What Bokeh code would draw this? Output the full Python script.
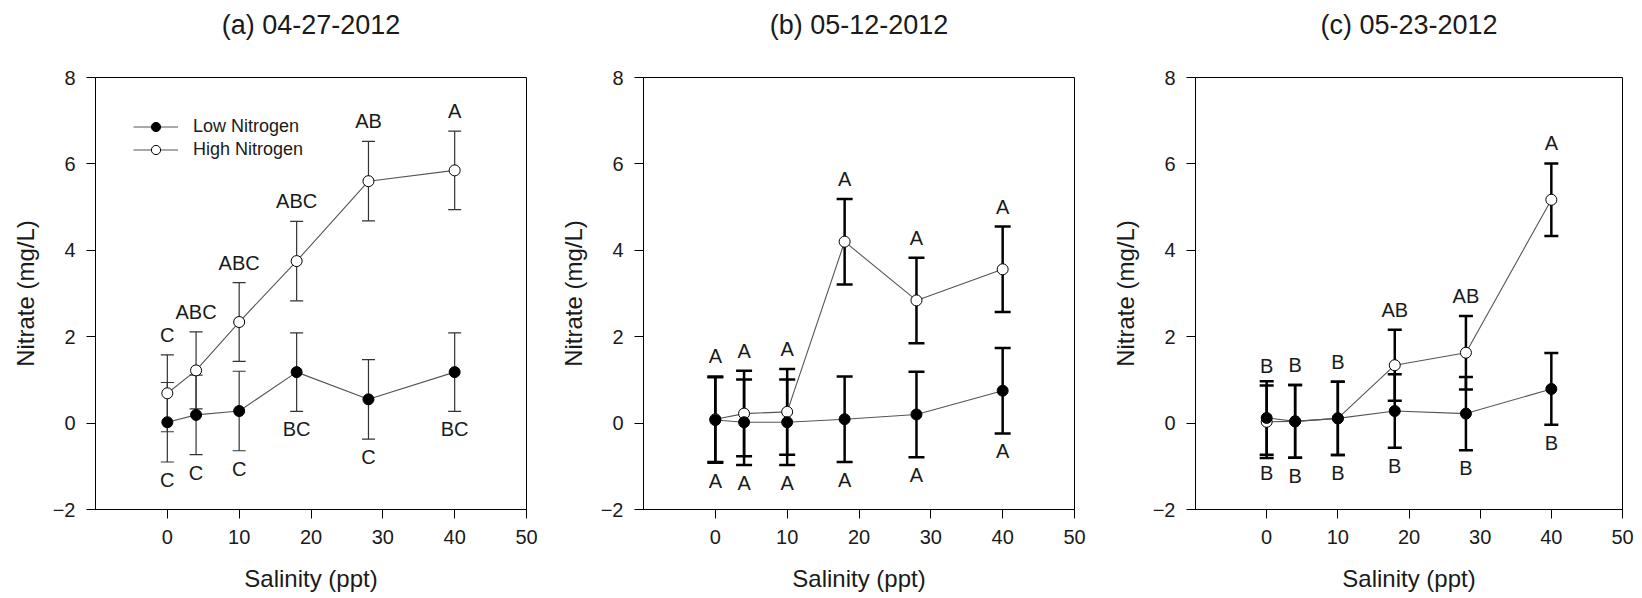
from bokeh.plotting import figure
from bokeh.models import (Range1d, FixedTicker, Whisker, TeeHead, ColumnDataSource,
                          Legend, LegendItem, Title)
from bokeh.layouts import row
from bokeh.embed import file_html
from bokeh.resources import INLINE
from bokeh.core.properties import value

# Salinity treatments (ppt)
salinity = [0, 4, 10, 18, 28, 40]

titles = ["(a) 04-27-2012", "(b) 05-12-2012", "(c) 05-23-2012"]

# (a) 04-27-2012 : nitrate means and error (mg/L)
low_a = [0.02, 0.19, 0.28, 1.18, 0.55, 1.18]
low_a_err = [0.92, 0.92, 0.92, 0.91, 0.92, 0.91]
high_a = [0.69, 1.22, 2.34, 3.75, 5.60, 5.85]
high_a_err = [0.89, 0.89, 0.91, 0.92, 0.92, 0.91]
low_a_letters = ["C", "C", "C", "BC", "C", "BC"]
high_a_letters = ["C", "ABC", "ABC", "ABC", "AB", "A"]

# (b) 05-12-2012
low_b = [0.07, 0.02, 0.02, 0.09, 0.20, 0.75]
low_b_err = [0.99, 0.99, 0.99, 0.99, 0.99, 0.99]
high_b = [0.09, 0.22, 0.26, 4.20, 2.84, 3.56]
high_b_err = [0.99, 0.99, 0.99, 0.99, 0.99, 0.99]
low_b_letters = ["A", "A", "A", "A", "A", "A"]
high_b_letters = ["A", "A", "A", "A", "A", "A"]

# (c) 05-23-2012
low_c = [0.12, 0.04, 0.11, 0.28, 0.22, 0.79]
low_c_err = [0.85, 0.84, 0.85, 0.85, 0.85, 0.83]
high_c = [0.03, 0.04, 0.11, 1.34, 1.63, 5.17]
high_c_err = [0.84, 0.84, 0.85, 0.82, 0.85, 0.84]
low_c_letters = ["B", "B", "B", "B", "B", "B"]
high_c_letters = ["B", "B", "B", "AB", "AB", "A"]

x_ticks = [0, 10, 20, 30, 40, 50]
y_ticks = [-2, 0, 2, 4, 6, 8]

FONT = "Liberation Sans"
TEXT = "#1a1a1a"
TOP = 77
FRAME_H = 432


def make_panel(title, low, low_err, high, high_err, low_letters, high_letters,
               bar_color, bar_width, cap, border_left, frame_width, border_right,
               show_legend):
    p = figure(width=border_left + frame_width + border_right, height=598,
               x_range=Range1d(-10, 50), y_range=Range1d(-2, 8),
               output_backend="svg", toolbar_location=None,
               min_border_left=border_left, min_border_right=border_right,
               min_border_top=TOP, min_border_bottom=598 - TOP - FRAME_H)
    p.background_fill_color = "white"
    p.border_fill_color = "white"
    p.grid.visible = False
    p.outline_line_color = "black"
    p.outline_line_width = 1
    p.outline_line_alpha = 1

    p.title.text = title
    p.title.align = "center"
    p.title.standoff = 14
    p.title.text_font = FONT
    p.title.text_font_size = "27px"
    p.title.text_font_style = "normal"
    p.title.text_color = TEXT
    # blank gap between the heading and the top of the frame
    p.add_layout(Title(text=" ", text_font_size="1px", standoff=28), "above")

    for ax in (p.xaxis[0], p.yaxis[0]):
        ax.major_tick_in = 0
        ax.major_tick_out = 9
        ax.minor_tick_line_color = None
        ax.axis_line_color = "black"
        ax.major_tick_line_color = "black"
        ax.major_label_text_font = FONT
        ax.major_label_text_font_size = "20px"
        ax.major_label_text_color = TEXT
        ax.axis_label_text_font = FONT
        ax.axis_label_text_font_size = "24px"
        ax.axis_label_text_font_style = "normal"
        ax.axis_label_text_color = TEXT
    p.xaxis.ticker = FixedTicker(ticks=x_ticks)
    p.yaxis.ticker = FixedTicker(ticks=y_ticks)
    p.xaxis.axis_label = "Salinity (ppt)"
    p.yaxis.axis_label = "Nitrate (mg/L)"
    p.xaxis.major_label_standoff = 11
    p.xaxis.axis_label_standoff = 18
    p.yaxis.major_label_standoff = 11
    p.yaxis.axis_label_standoff = 11

    low_up = [m + e for m, e in zip(low, low_err)]
    low_dn = [m - e for m, e in zip(low, low_err)]
    high_up = [m + e for m, e in zip(high, high_err)]
    high_dn = [m - e for m, e in zip(high, high_err)]

    # error bars
    for up, dn in ((low_up, low_dn), (high_up, high_dn)):
        src = ColumnDataSource(dict(x=salinity, upper=up, lower=dn))
        p.add_layout(Whisker(source=src, base="x", upper="upper", lower="lower",
                             line_color=bar_color, line_width=bar_width,
                             upper_head=TeeHead(size=cap, line_color=bar_color,
                                                line_width=bar_width),
                             lower_head=TeeHead(size=cap, line_color=bar_color,
                                                line_width=bar_width)))

    # connecting lines and markers
    l_low = p.line(salinity, low, line_color="#555555", line_width=1.1)
    l_high = p.line(salinity, high, line_color="#555555", line_width=1.1)
    s_high = p.scatter(salinity, high, size=11, fill_color="white",
                       line_color="black", line_width=1)
    s_low = p.scatter(salinity, low, size=11, fill_color="black",
                      line_color="black", line_width=1)

    # significance letters
    p.text(x=salinity, y=high_up, text=high_letters, y_offset=-20,
           text_align="center", text_baseline="middle",
           text_font=value(FONT), text_font_size="20px", text_color=TEXT)
    p.text(x=salinity, y=low_dn, text=low_letters, y_offset=18,
           text_align="center", text_baseline="middle",
           text_font=value(FONT), text_font_size="20px", text_color=TEXT)

    if show_legend:
        legend = Legend(items=[LegendItem(label="Low Nitrogen", renderers=[l_low, s_low]),
                               LegendItem(label="High Nitrogen", renderers=[l_high, s_high])],
                        location="top_left")
        legend.border_line_alpha = 0
        legend.background_fill_alpha = 0
        legend.glyph_width = 45
        legend.glyph_height = 23
        legend.label_height = 23
        legend.spacing = 0
        legend.padding = 10
        legend.margin = 28
        legend.label_standoff = 15
        legend.label_text_font = FONT
        legend.label_text_font_size = "18px"
        legend.label_text_color = TEXT
        p.add_layout(legend)
    return p


pa = make_panel(titles[0], low_a, low_a_err, high_a, high_a_err, low_a_letters,
                high_a_letters, "#333333", 1.2, 13, 95, 431, 22, True)
pb = make_panel(titles[1], low_b, low_b_err, high_b, high_b_err, low_b_letters,
                high_b_letters, "black", 2.5, 16, 95, 431, 22, False)
pc = make_panel(titles[2], low_c, low_c_err, high_c, high_c_err, low_c_letters,
                high_c_letters, "black", 2.5, 14, 99, 427, 20, False)

layout = row(pa, pb, pc, spacing=0)
open("out.html", "w").write(file_html(layout, INLINE))
